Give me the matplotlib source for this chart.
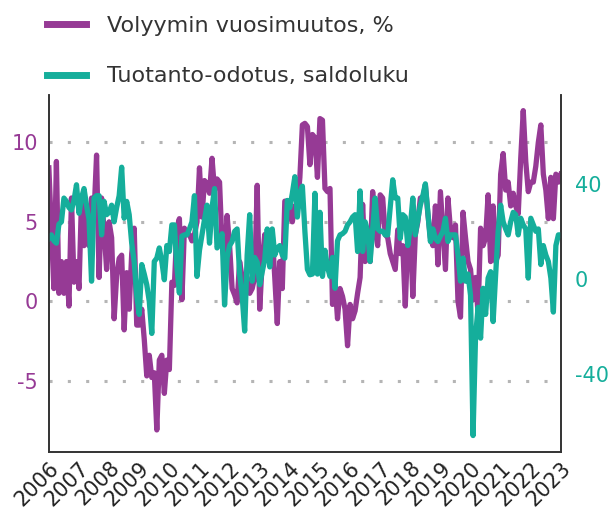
import numpy as np
import pandas as pd
import matplotlib
matplotlib.use("Agg")
import matplotlib.pyplot as plt

# monthly values, 2006-01 .. 2023-01
volume_change = [
    8.4, 4.5, 0.8, 8.8, 0.5, 2.5, 0.5, 2.5, -0.3, 6.5, 1.2, 2.5,          # 2006
    0.8, 6.4, 3.5, 6.0, 3.5, 6.5, 5.5, 9.2, 1.5, 6.5, 4.5, 2.0,           # 2007
    5.0, 4.0, -1.1, 1.6, 2.7, 2.9, -1.8, 1.8, -0.5, 3.0, 4.6, -1.5,       # 2008
    -1.5, -0.5, -2.4, -4.7, -3.4, -4.8, -4.5, -8.1, -3.7, -3.4, -5.8, -3.7,  # 2009
    -4.3, 1.2, 1.0, 4.6, 5.2, 0.1, 4.6, 4.2, 4.2, 3.8, 4.2, 5.0,          # 2010
    8.4, 5.3, 7.6, 7.4, 6.8, 9.0, 7.0, 7.7, 7.5, 3.5, 2.5, 5.4,           # 2011
    3.5, 0.8, 0.4, -0.1, 2.5, 1.5, 1.0, 1.5, 0.5, 0.8, 1.5, 7.3,          # 2012
    -0.5, 2.5, 4.2, 3.0, 4.0, 4.2, 1.5, -1.4, 2.5, 0.8, 6.3, 6.3,         # 2013
    5.5, 5.0, 6.0, 6.0, 7.8, 11.1, 11.2, 11.0, 8.6, 10.5, 10.3, 7.8,      # 2014
    11.5, 11.4, 7.1, 6.9, 7.1, -0.2, 1.2, -1.1, 0.8, 0.3, -0.5, -2.8,     # 2015
    -0.2, -1.1, -0.6, 0.5, 1.5, 6.1, 2.5, 4.5, 2.5, 6.9, 4.5, 3.5,        # 2016
    6.7, 6.5, 4.2, 4.0, 3.0, 2.5, 2.0, 4.5, 3.0, 3.5, -0.3, 4.0,          # 2017
    4.5, 0.3, 4.2, 5.0, 6.5, 6.5, 7.3, 5.5, 4.0, 3.5, 6.0, 2.3,           # 2018
    6.9, 4.5, 2.0, 6.5, 4.5, 4.0, 4.8, 0.0, -1.0, 5.6, 4.0, 2.5,          # 2019
    2.0, 0.1, 1.5, -0.8, 4.6, 3.5, 4.0, 6.7, 2.5, 6.0, 2.5, 2.9,          # 2020
    8.0, 9.3, 7.0, 7.5, 6.0, 6.8, 6.0, 5.5, 9.0, 12.0, 8.8, 6.9,          # 2021
    7.5, 7.5, 8.5, 10.0, 11.1, 8.0, 7.0, 5.2, 7.8, 5.2, 8.0, 7.5,         # 2022
    8.0,                                                                  # 2023
]

production_expectation = [
    17, 18.5, 16, 15, 23, 24, 34, 32.6, 30, 29, 33, 39.6,      # 2006
    27.6, 34, 38, 31, 25, -1, 34, 35, 35, 18.5, 32.6, 27,      # 2007
    28, 31, 24, 30, 35, 47, 25.5, 32.6, 27, 15, 7, -7,         # 2008
    -15, 6, 2, -2.5, -9.5, -23, 7.3, 8.7, 13, 7.3, -0.4, 14,   # 2009
    11.5, 22.7, 22.7, 5, -6, 18, 18.5, 18.5, 21, 24, 35, 1,    # 2010
    12, 18.5, 25, 31, 15, 30, 38, 13, 15, 19, -11, 9,          # 2011
    14, 15.7, 20, 21, 2, -7, -22, 10, 27, -1, 9, 7,            # 2012
    -2.5, 3, 8, 21, 5, 21, 10, 13, 14, 10, 8.7, 33,            # 2013
    30, 36, 43, 26, 36, 39, 20, 4, 1.7, 2, 36, 2,              # 2014
    28, 1, 12, 5, 1, 9, -4, 16, 18.5, 19, 20, 22.7,            # 2015
    24, 26, 27, 11.5, 37, 11.5, 24, 20, 7.3, 21, 34, 21,       # 2016
    20, 20, 18.5, 18.5, 30, 41.7, 34, 34, 17, 27, 26, 14,      # 2017
    22, 34, 18.5, 25, 31, 35, 40, 28, 15.7, 21, 17, 15.7,      # 2018
    18, 20, 25.5, 15.7, 18.5, 18.5, 18.5, 10, -1, 8.7, -1, 2,  # 2019
    -7, -66, -24, -12, -25, -4, -15, 0.3, 3, -18, 1.7, 20,     # 2020
    31, 24, 21, 18.5, 24, 28, 27, 18.5, 25.5, 22.7, 21, 0.3,   # 2021
    25.5, 22.7, 20, 21, 6, 14, 10, 7.3, 0.3, -14, 14, 18.5,    # 2022
    18.5,                                                      # 2023
]

years = list(range(2006, 2024))
labels = ["Volyymin vuosimuutos, %", "Tuotanto-odotus, saldoluku"]

purple = "#963a95"
teal = "#15ae9b"

dates = pd.date_range("2006-01-01", periods=len(volume_change), freq="MS")
x = dates.year + (dates.month - 1) / 12

fig = plt.figure(figsize=(6.11, 5.15), dpi=100)
ax = fig.add_axes([0.080, 0.122, 0.838, 0.694])
ax2 = ax.twinx()

l1, = ax.plot(x, volume_change, color=purple, lw=3.8, solid_joinstyle="round")
l2, = ax2.plot(x, production_expectation, color=teal, lw=3.8,
               solid_joinstyle="round")

ax.set_xlim(x[0], x[-1])
ax.set_ylim(-9.5, 13)
ax2.set_ylim(-73, 77.5)

ax.set_yticks([-5, 0, 5, 10])
ax.set_yticklabels(["-5", "0", "5", "10"])
ax2.set_yticks([-40, 0, 40])
ax2.set_yticklabels(["-40", "0", "40"])
ax.set_xticks(years)
ax.set_xticklabels([str(y) for y in years], rotation=45, ha="right",
                   rotation_mode="anchor")

ax.grid(axis="y", color="#b5b5b5", linestyle=(0, (1, 5)), linewidth=2.2)
ax.tick_params(axis="y", length=0, labelsize=15, labelcolor=purple, pad=8)
ax.tick_params(axis="x", length=0, labelsize=15, labelcolor="#222222", pad=4)
ax2.tick_params(axis="y", length=0, labelsize=15, labelcolor=teal, pad=10)

for a in (ax, ax2):
    a.spines["top"].set_visible(False)
    for s in ("left", "right", "bottom"):
        a.spines[s].set_color("#333333")
        a.spines[s].set_linewidth(1.2)

leg = fig.legend([l1, l2], labels, loc="upper left",
                 bbox_to_anchor=(0.044, 1.008), frameon=False, fontsize=16,
                 handlelength=1.75, handletextpad=0.95, labelspacing=1.37,
                 labelcolor="#333333")
for h in leg.get_lines():
    h.set_linewidth(5)

fig.savefig("out.png", dpi=100)
